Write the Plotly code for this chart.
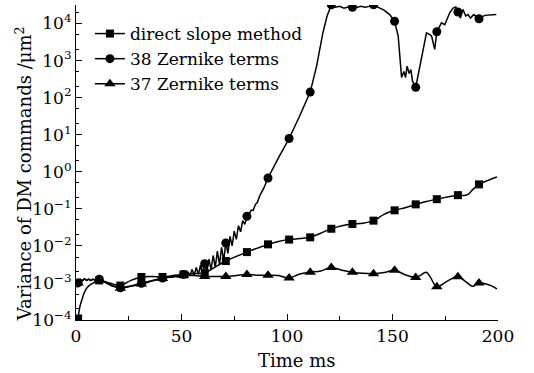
import plotly.graph_objects as go

# ---------------- data ----------------
# direct slope method (squares)
t_direct = [1, 1.5, 2, 2.8, 4, 5.2, 7, 8.3, 11, 16, 21, 26, 31, 36, 41, 46, 51, 56, 61, 66, 71, 76,
            81, 86, 91, 96, 101, 106, 111, 116, 121, 126, 131, 136, 141, 146, 151, 156, 161, 166,
            171, 176, 181, 184, 186, 188, 191, 195, 199.5]
y_direct = [1.1e-4, 1.8e-4, 2.5e-4, 3.5e-4, 5.6e-4, 7.4e-4, 9.1e-4, 1.0e-3, 1.17e-3, 1.0e-3, 8.5e-4,
            1.17e-3, 1.45e-3, 1.5e-3, 1.45e-3, 1.58e-3, 1.7e-3, 1.78e-3, 1.86e-3, 2.7e-3, 3.9e-3,
            5.2e-3, 6.8e-3, 8.7e-3, 1.1e-2, 1.32e-2, 1.48e-2, 1.58e-2, 1.7e-2, 2.2e-2, 2.9e-2,
            3.5e-2, 3.9e-2, 4.1e-2, 4.8e-2, 7.1e-2, 9.1e-2, 0.107, 0.132, 0.158, 0.182, 0.209,
            0.234, 0.229, 0.25, 0.33, 0.457, 0.575, 0.72]

# 38 Zernike terms (circles)
t_z38 = [1, 2, 3, 4, 5, 6, 7, 8, 9, 11, 14, 17, 21, 26, 31, 36, 41, 46, 47, 48, 49, 50, 51,
         52, 53, 54, 55, 56, 57, 58, 59, 60, 61, 62, 63, 64, 65, 66, 67, 68, 69, 70, 71,
         72, 73, 74, 75, 76, 77, 78, 79, 80, 81, 82, 83, 84, 85, 86, 87, 89, 91, 96, 101,
         106, 111, 114, 117, 119, 121, 123, 125, 127, 129, 131, 133, 135, 137, 139, 141,
         144, 146, 148.7, 151, 152.7, 153.8, 154.3, 155.4, 156.2, 156.9, 157.9, 158.7, 159.5,
         161, 163.7, 166.1, 167.7, 168.5, 170, 171, 172.4, 173.2, 174.8, 175.6, 177.1, 178.7,
         180, 181, 182.2, 183.4, 184.7, 185.8, 186.9, 188.5, 191, 193.7, 199.2]
y_z38 = [1.0e-3, 1.26e-3, 1.15e-3, 1.29e-3, 1.17e-3, 1.26e-3, 1.17e-3, 1.26e-3, 1.2e-3, 1.26e-3,
         1.05e-3, 8.3e-4, 7.4e-4, 8.3e-4, 9.8e-4, 1.17e-3, 1.35e-3, 1.48e-3, 1.6e-3, 1.45e-3,
         1.7e-3, 1.5e-3, 1.7e-3,
         1.58e-3, 2.0e-3, 1.58e-3, 2.3e-3, 1.62e-3, 2.63e-3, 1.7e-3, 3.0e-3, 1.82e-3, 3.3e-3,
         2.0e-3, 4.4e-3, 2.3e-3, 5.5e-3, 2.63e-3, 7.2e-3, 3.16e-3, 9.1e-3, 4.0e-3, 1.2e-2,
         6.3e-3, 1.8e-2, 1.0e-2, 2.5e-2, 1.5e-2, 3.5e-2, 2.4e-2, 4.8e-2, 3.8e-2, 6.3e-2,
         7.2e-2, 9.1e-2, 9.1e-2, 0.13, 0.15, 0.22, 0.36, 0.68, 2.4, 7.9,
         32, 141, 700, 5600, 1.6e4, 3.2e4, 2.75e4, 2.9e4, 2.6e4, 2.8e4, 2.75e4, 2.7e4, 2.9e4,
         2.75e4, 2.9e4, 3.2e4,
         2.6e4, 2.3e4, 1.74e4, 1.15e4, 4600, 1070, 350, 510, 350, 710, 450, 575, 275,
         190, 1300, 5600, 5000, 4600, 2000, 6000, 8500, 1.05e4, 9300, 1.23e4, 1.95e4, 2.6e4,
         2.8e4, 2.05e4, 1.4e4, 2.4e4, 1.6e4, 1.74e4, 1.4e4, 1.74e4, 1.35e4, 1.66e4, 1.74e4]

# 37 Zernike terms (triangles)
t_z37 = [1, 2, 3, 4, 5, 6, 7, 8, 9, 11, 16, 21, 26, 31, 36, 41, 46, 51, 56, 61, 66, 71, 76, 81,
         86, 91, 96, 101, 106, 111, 116, 121, 126, 131, 136, 141, 146, 151, 156, 161, 163, 166,
         168, 171, 176, 181, 185, 188, 191, 194, 197, 199.5]
y_z37 = [1.0e-3, 1.26e-3, 1.15e-3, 1.29e-3, 1.17e-3, 1.26e-3, 1.17e-3, 1.26e-3, 1.2e-3, 1.2e-3,
         9.1e-4, 7.2e-4, 8.1e-4, 9.3e-4, 1.12e-3, 1.32e-3, 1.45e-3, 1.58e-3, 1.58e-3, 1.5e-3,
         1.5e-3, 1.5e-3, 1.58e-3, 1.7e-3, 1.62e-3, 1.62e-3, 1.58e-3, 1.35e-3, 1.74e-3, 1.95e-3,
         2.1e-3, 2.6e-3, 2.2e-3, 1.95e-3, 1.82e-3, 1.78e-3, 1.9e-3, 2.2e-3, 1.66e-3, 1.41e-3,
         1.58e-3, 1.95e-3, 1.41e-3, 7.9e-4, 1.12e-3, 1.48e-3, 1.05e-3, 8.1e-4, 1.0e-3, 9.5e-4,
         8.3e-4, 6.9e-4]

marker_times = [1 + 10 * k for k in range(20)]
x_ticks = [0, 50, 100, 150, 200]
y_exponents = [-4, -3, -2, -1, 0, 1, 2, 3, 4]

FONT = "DejaVu Serif"


def marks(ts, ys):
    xs, vs = [], []
    for t, v in zip(ts, ys):
        if t in marker_times:
            xs.append(t)
            vs.append(v)
    return xs, vs


series = [
    ("direct slope method", t_direct, y_direct, "square", 8, "spline"),
    ("38 Zernike terms", t_z38, y_z38, "circle", 9, "linear"),
    ("37 Zernike terms", t_z37, y_z37, "triangle-up", 10, "spline"),
]

fig = go.Figure()
for name, ts, ys, sym, size, shape in series:
    fig.add_trace(go.Scatter(x=ts, y=ys, mode="lines", showlegend=False,
                             line=dict(color="black", width=1.5, shape=shape)))
    mx, my = marks(ts, ys)
    fig.add_trace(go.Scatter(x=mx, y=my, mode="markers", showlegend=False,
                             marker=dict(symbol=sym, size=size, color="black")))
    fig.add_trace(go.Scatter(x=[None], y=[None], mode="lines+markers", name=name,
                             line=dict(color="black", width=1.5),
                             marker=dict(symbol=sym, size=size, color="black")))

y_tickvals = [10.0 ** e for e in y_exponents]
y_ticktext = ["10<sup>%s</sup>" % (str(e).replace("-", "−")) for e in y_exponents]

fig.update_layout(
    width=534, height=373,
    margin=dict(l=76, r=36, t=5, b=53),
    paper_bgcolor="white", plot_bgcolor="white",
    font=dict(family=FONT, color="black", size=17),
    showlegend=True,
    legend=dict(x=0.033, y=0.965, xanchor="left", yanchor="top",
                bgcolor="rgba(0,0,0,0)", font=dict(family=FONT, size=17),
                tracegroupgap=0, itemwidth=30),
    xaxis=dict(range=[0, 200], tickvals=x_ticks, ticks="inside", ticklen=6,
               tickcolor="black", showline=True, linecolor="black", linewidth=1.2,
               showgrid=False, zeroline=False,
               minor=dict(tickvals=[25, 75, 125, 175], ticks="inside", ticklen=4,
                          tickcolor="black", showgrid=False),
               tickfont=dict(family=FONT, size=17)),
    yaxis=dict(type="log", range=[-4, 4.5], tickvals=y_tickvals, ticktext=y_ticktext,
               ticks="inside", ticklen=6, tickcolor="black", showline=True,
               linecolor="black", linewidth=1.2, showgrid=False, zeroline=False,
               minor=dict(ticks="inside", ticklen=3, tickcolor="black", showgrid=False),
               tickfont=dict(family=FONT, size=17)),
    annotations=[
        dict(text="Variance of DM commands /μm<sup>2</sup>", xref="paper", yref="paper",
             x=-0.123, y=0.463, textangle=-90, showarrow=False,
             font=dict(family=FONT, size=18), xanchor="center", yanchor="middle"),
        dict(text="Time ms", xref="paper", yref="paper", x=0.523, y=-0.13,
             showarrow=False, font=dict(family=FONT, size=18),
             xanchor="center", yanchor="middle"),
    ],
)

fig.write_html("out.html", config={"displayModeBar": False},
               post_script="document.body.style.margin='0';")
